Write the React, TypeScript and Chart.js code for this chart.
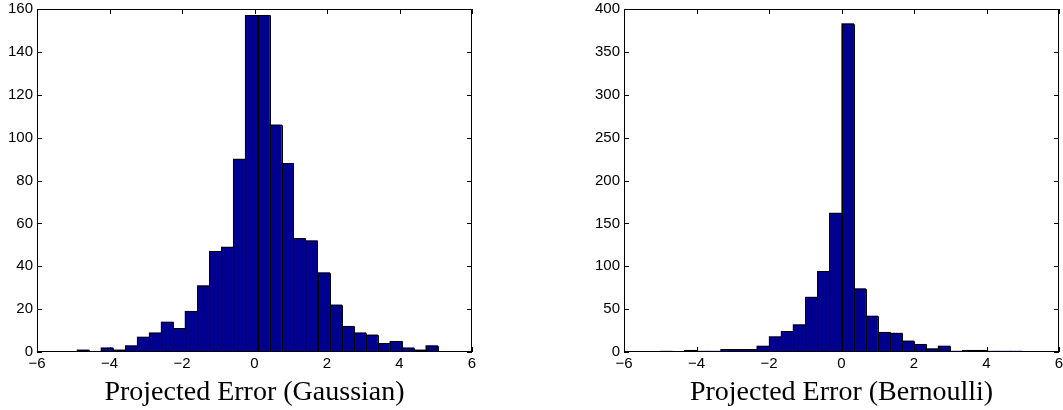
import { useEffect, useRef } from "react"
import { Chart, registerables } from "chart.js"

Chart.register(...registerables)

// Histogramas (30 clases cada uno)
const gaussCenters = [
  -4.73, -4.40, -4.07, -3.74, -3.40, -3.07, -2.74, -2.41, -2.08, -1.75,
  -1.41, -1.08, -0.75, -0.42, -0.09, 0.25, 0.58, 0.91, 1.24, 1.57,
  1.91, 2.24, 2.57, 2.90, 3.23, 3.56, 3.90, 4.23, 4.56, 4.89,
]
const gaussCounts = [
  1, 0, 2, 1, 3, 7, 9, 14, 11, 19,
  31, 47, 49, 90, 157, 157, 106, 88, 53, 52,
  37, 22, 12, 9, 8, 4, 5, 2, 1, 3,
]
const bernCenters = [
  -4.83, -4.50, -4.17, -3.83, -3.50, -3.17, -2.83, -2.50, -2.17, -1.83,
  -1.50, -1.17, -0.83, -0.50, -0.17, 0.17, 0.50, 0.83, 1.17, 1.50,
  1.83, 2.17, 2.50, 2.83, 3.17, 3.50, 3.83, 4.17, 4.50, 4.83,
]
const bernCounts = [
  1, 0, 2, 1, 1, 3, 3, 3, 7, 18,
  24, 32, 64, 94, 162, 383, 74, 42, 23, 22,
  13, 9, 4, 7, 1, 2, 2, 1, 1, 1,
]
const xTicks = [-6, -4, -2, 0, 2, 4, 6]
const gaussYTicks = [0, 20, 40, 60, 80, 100, 120, 140, 160]
const bernYTicks = [0, 50, 100, 150, 200, 250, 300, 350, 400]

const sansFont = "'Liberation Sans', Arial, Helvetica, sans-serif"
const serifFont = "'Liberation Serif', 'Times New Roman', serif"

// Caja, marcas hacia dentro y bordes nitidos de las barras, al estilo MATLAB
const matlabAxes = {
  id: "matlabAxes",
  beforeDatasetsDraw(chart: any) {
    const { ctx, chartArea } = chart
    const { left, right, top, bottom } = chartArea
    const len = 5
    ctx.save()
    ctx.strokeStyle = "#000"
    ctx.lineWidth = 1
    ctx.beginPath()
    chart.scales.x.ticks.forEach((t: any) => {
      const px = Math.round(chart.scales.x.getPixelForValue(t.value)) + 0.5
      ctx.moveTo(px, bottom)
      ctx.lineTo(px, bottom - len)
      ctx.moveTo(px, top)
      ctx.lineTo(px, top + len)
    })
    chart.scales.y.ticks.forEach((t: any) => {
      const py = Math.round(chart.scales.y.getPixelForValue(t.value)) + 0.5
      ctx.moveTo(left, py)
      ctx.lineTo(left + len, py)
      ctx.moveTo(right, py)
      ctx.lineTo(right - len, py)
    })
    ctx.stroke()
    ctx.restore()
  },
  afterDatasetsDraw(chart: any) {
    const { ctx, chartArea } = chart
    const { left, right, top, bottom } = chartArea
    ctx.save()
    ctx.strokeStyle = "#000"
    ctx.lineWidth = 1

    // contorno de cada barra
    const bars = chart.getDatasetMeta(0).data
    ctx.beginPath()
    bars.forEach((bar: any) => {
      if (Math.abs(bar.base - bar.y) < 0.5) return
      const x0 = Math.round(bar.x - bar.width / 2) + 0.5
      const x1 = Math.round(bar.x + bar.width / 2) + 0.5
      const y0 = Math.round(bar.y) + 0.5
      const y1 = Math.round(bar.base) - 0.5
      ctx.rect(x0, y0, x1 - x0, Math.max(y1 - y0, 0))
    })
    ctx.stroke()

    const l = Math.round(left) + 0.5
    const t = Math.round(top) + 0.5
    const r = Math.round(right) - 0.5
    const b = Math.round(bottom) - 0.5
    ctx.strokeRect(l, t, r - l, b - t)
    ctx.restore()
  },
}

interface HistProps {
  centers: number[]
  counts: number[]
  yTicks: number[]
  title: string
  padLeft: number
  padRight: number
}

function Histogram({ centers, counts, yTicks, title, padLeft, padRight }: HistProps) {
  const chartRef = useRef<HTMLCanvasElement>(null)
  const chartInstance = useRef<Chart | null>(null)

  useEffect(() => {
    if (!chartRef.current) return
    if (chartInstance.current) chartInstance.current.destroy()

    const ctx = chartRef.current.getContext("2d")
    if (!ctx) return

    chartInstance.current = new Chart(ctx, {
      type: "bar",
      data: {
        datasets: [
          {
            data: centers.map((c, i) => ({ x: c, y: counts[i] })),
            backgroundColor: "#00008f",
            borderWidth: 0,
            barPercentage: 1,
            categoryPercentage: 1,
          },
        ],
      },
      options: {
        animation: false,
        responsive: true,
        maintainAspectRatio: false,
        layout: { padding: { left: padLeft, right: padRight, top: 9, bottom: 0 } },
        plugins: { legend: { display: false }, tooltip: { enabled: false } },
        scales: {
          x: {
            type: "linear",
            min: xTicks[0],
            max: xTicks[xTicks.length - 1],
            offset: false,
            grid: { display: false, drawTicks: false },
            border: { display: false },
            afterBuildTicks: (s: any) => {
              s.ticks = xTicks.map((v) => ({ value: v }))
            },
            afterFit: (s: any) => {
              s.height = 58
              s.paddingLeft = 0
              s.paddingRight = 0
            },
            ticks: {
              color: "#000",
              font: { family: sansFont, size: 15 },
              padding: 3,
              maxRotation: 0,
              autoSkip: false,
              callback: (v: any) => String(v).replace("-", "\u2212"),
            },
            title: {
              display: true,
              text: title,
              color: "#000",
              font: { family: serifFont, size: 28 },
              padding: { top: 0, bottom: 1 },
            },
          },
          y: {
            min: yTicks[0],
            max: yTicks[yTicks.length - 1],
            grid: { display: false, drawTicks: false },
            border: { display: false },
            afterBuildTicks: (s: any) => {
              s.ticks = yTicks.map((v) => ({ value: v }))
            },
            afterFit: (s: any) => {
              s.width = 37
              s.paddingTop = 0
              s.paddingBottom = 0
            },
            ticks: {
              color: "#000",
              font: { family: sansFont, size: 15 },
              padding: 4,
              autoSkip: false,
            },
          },
        },
      },
      plugins: [matlabAxes],
    })

    return () => {
      if (chartInstance.current) {
        chartInstance.current.destroy()
        chartInstance.current = null
      }
    }
  }, [centers, counts, yTicks, title, padLeft, padRight])

  return <canvas ref={chartRef} />
}

export default function App() {
  return (
    <div style={{ position: "absolute", left: 0, top: 0, width: 1063, height: 410, background: "#fff" }}>
      <div style={{ position: "absolute", left: 0, top: 0, width: 531, height: 410 }}>
        <Histogram
          centers={gaussCenters}
          counts={gaussCounts}
          yTicks={gaussYTicks}
          title="Projected Error (Gaussian)"
          padLeft={0}
          padRight={59}
        />
      </div>
      <div style={{ position: "absolute", left: 531, top: 0, width: 532, height: 410 }}>
        <Histogram
          centers={bernCenters}
          counts={bernCounts}
          yTicks={bernYTicks}
          title="Projected Error (Bernoulli)"
          padLeft={56}
          padRight={4}
        />
      </div>
    </div>
  )
}
